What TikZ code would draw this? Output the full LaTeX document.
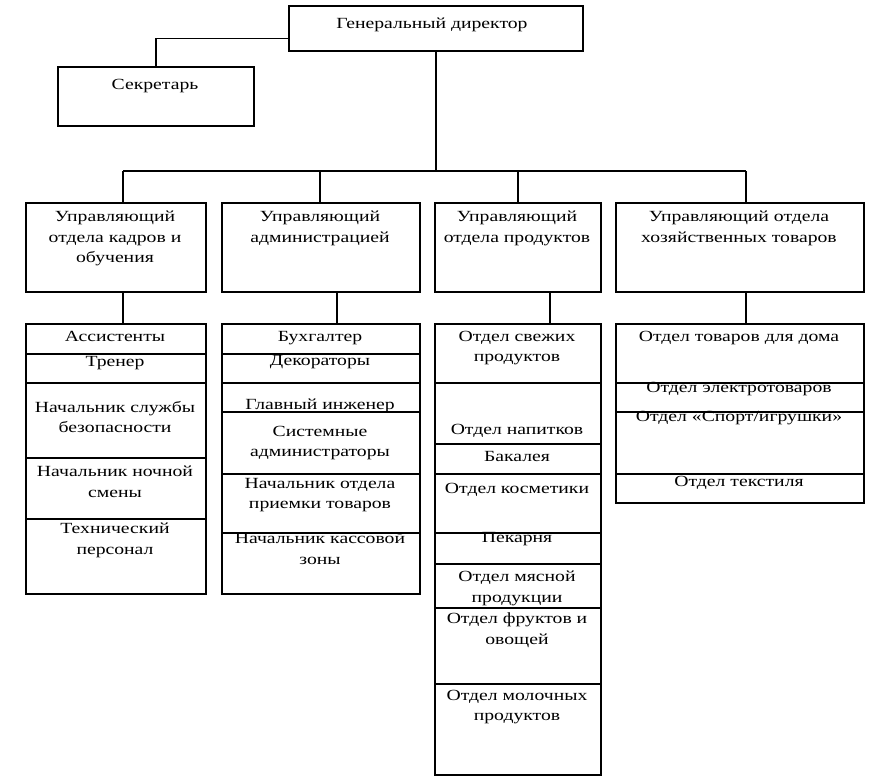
\documentclass[tikz,border=0pt]{standalone}
\usepackage{fontspec}
\setmainfont{Liberation Serif}[FakeStretch=1.27]
\begin{document}
\begin{tikzpicture}[x=1pt,y=-1pt,
  box/.style={draw, line width=1.5pt, inner sep=0pt, anchor=north west},
  lbl/.style={align=center, inner sep=0pt, anchor=north, font=\fontsize{15.5}{20.5}\selectfont},
  conn/.style={line width=1.5pt}]
\useasboundingbox[fill=white] (0,0) rectangle (877,777);
\newcommand\cellbox[5]{\node[box, minimum width=#4pt, minimum height=#5pt] (#1) at (#2,#3) {};}
\newcommand\lbltext[4]{\node[lbl] (#1) at (#2,#3) {#4};}
% top
\cellbox{gd}{288}{5}{294}{45}
\cellbox{sec}{57}{66}{196}{59}
\lbltext{tgd}{432}{18}{Генеральный директор}
\lbltext{tsec}{155}{79}{Секретарь}
% managers
\cellbox{m1}{25}{202}{180}{89}
\cellbox{m2}{221}{202}{198}{89}
\cellbox{m3}{434}{202}{166}{89}
\cellbox{m4}{615}{202}{248}{89}
\lbltext{tm1}{115}{211}{Управляющий\\отдела кадров и\\обучения}
\lbltext{tm2}{320}{211}{Управляющий\\администрацией}
\lbltext{tm3}{517}{211}{Управляющий\\отдела продуктов}
\lbltext{tm4}{739}{211}{Управляющий отдела\\хозяйственных товаров}
% column 1
\cellbox{c11}{25}{323}{180}{30}
\cellbox{c12}{25}{353}{180}{29}
\cellbox{c13}{25}{382}{180}{75}
\cellbox{c14}{25}{457}{180}{61}
\cellbox{c15}{25}{518}{180}{75}
\lbltext{t11}{115}{331}{Ассистенты}
\lbltext{t12}{115}{356}{Тренер}
\lbltext{t13}{115}{401}{Начальник службы\\безопасности}
\lbltext{t14}{115}{466}{Начальник ночной\\смены}
\lbltext{t15}{115}{523}{Технический\\персонал}
% column 2
\cellbox{c21}{221}{323}{198}{30}
\cellbox{c22}{221}{353}{198}{29}
\cellbox{c23}{221}{382}{198}{29}
\cellbox{c24}{221}{411}{198}{62}
\cellbox{c25}{221}{473}{198}{59}
\cellbox{c26}{221}{532}{198}{61}
\lbltext{t21}{320}{331}{Бухгалтер}
\lbltext{t22}{320}{355}{Декораторы}
\lbltext{t23}{320}{399}{Главный инженер}
\lbltext{t24}{320}{426}{Системные\\администраторы}
\lbltext{t25}{320}{478}{Начальник отдела\\приемки товаров}
\lbltext{t26}{320}{533}{Начальник кассовой\\зоны}
% column 3
\cellbox{c31}{434}{323}{166}{59}
\cellbox{c32}{434}{382}{166}{61}
\cellbox{c33}{434}{443}{166}{30}
\cellbox{c34}{434}{473}{166}{59}
\cellbox{c35}{434}{532}{166}{31}
\cellbox{c36}{434}{563}{166}{44}
\cellbox{c37}{434}{607}{166}{76}
\cellbox{c38}{434}{683}{166}{91}
\lbltext{t31}{517}{331}{Отдел свежих\\продуктов}
\lbltext{t32}{517}{424}{Отдел напитков}
\lbltext{t33}{517}{451}{Бакалея}
\lbltext{t34}{517}{483}{Отдел косметики}
\lbltext{t35}{517}{532}{Пекарня}
\lbltext{t36}{517}{571}{Отдел мясной\\продукции}
\lbltext{t37}{517}{613}{Отдел фруктов и\\овощей}
\lbltext{t38}{517}{690}{Отдел молочных\\продуктов}
% column 4
\cellbox{c41}{615}{323}{248}{59}
\cellbox{c42}{615}{382}{248}{29}
\cellbox{c43}{615}{411}{248}{62}
\cellbox{c44}{615}{473}{248}{29}
\lbltext{t41}{739}{331}{Отдел товаров для дома}
\lbltext{t42}{739}{382}{Отдел электротоваров}
\lbltext{t43}{739}{411}{Отдел «Спорт/игрушки»}
\lbltext{t44}{739}{476}{Отдел текстиля}
% connectors
\coordinate (d1) at (123,171);
\coordinate (d2) at (320,171);
\coordinate (d3) at (518,171);
\coordinate (d4) at (746,171);
\coordinate (l1) at (123,0);
\coordinate (l2) at (337,0);
\coordinate (l3) at (550,0);
\coordinate (l4) at (746,0);
\draw[conn] ([yshift=-10pt]gd.west) -| (sec.north);
\draw[conn] (gd.south) -- (gd.south |- d1);
\draw[conn] (d1) -- (d4);
\draw[conn] (d1) -- (d1 |- m1.north);
\draw[conn] (d2) -- (d2 |- m2.north);
\draw[conn] (d3) -- (d3 |- m3.north);
\draw[conn] (d4) -- (d4 |- m4.north);
\draw[conn] (m1.south -| l1) -- (c11.north -| l1);
\draw[conn] (m2.south -| l2) -- (c21.north -| l2);
\draw[conn] (m3.south -| l3) -- (c31.north -| l3);
\draw[conn] (m4.south -| l4) -- (c41.north -| l4);
\end{tikzpicture}
\end{document}
